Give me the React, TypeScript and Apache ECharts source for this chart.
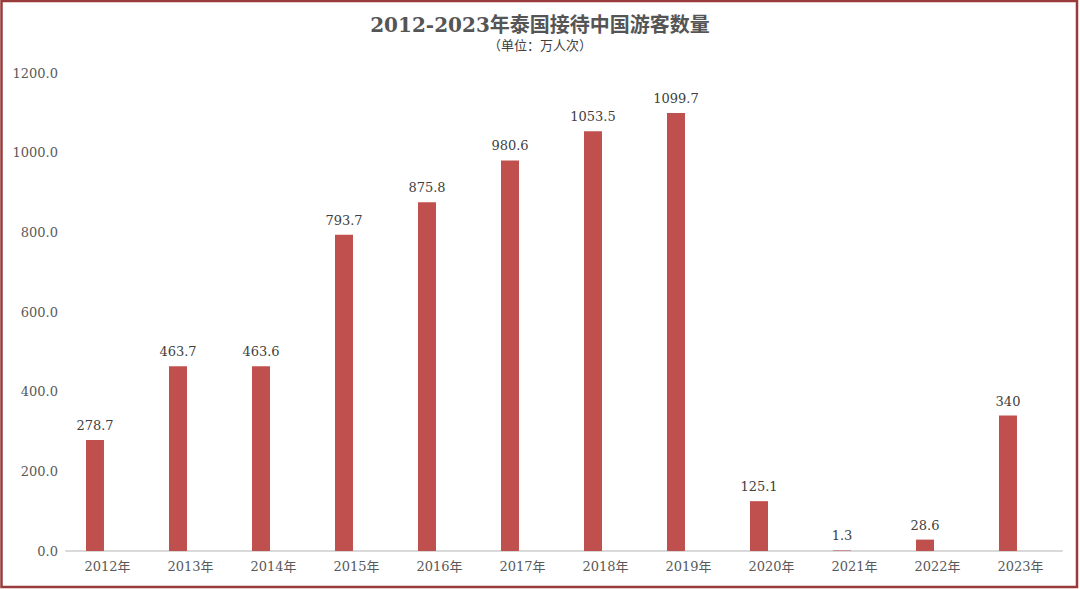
import React, { useEffect, useRef } from "react";
import * as echarts from "echarts";

const categories = ["2012年", "2013年", "2014年", "2015年", "2016年", "2017年", "2018年", "2019年", "2020年", "2021年", "2022年", "2023年"];
const visitors = [278.7, 463.7, 463.6, 793.7, 875.8, 980.6, 1053.5, 1099.7, 125.1, 1.3, 28.6, 340];
const valueLabels = ["278.7", "463.7", "463.6", "793.7", "875.8", "980.6", "1053.5", "1099.7", "125.1", "1.3", "28.6", "340"];
const yTicks = [0, 200, 400, 600, 800, 1000, 1200];

export default function App() {
  const ref = useRef<HTMLDivElement>(null);
  useEffect(() => {
    if (!ref.current) return;
    const chart = echarts.init(ref.current, undefined, { renderer: "svg" });
    const serif = "'DejaVu Serif', 'Noto Sans CJK SC', serif";
    chart.setOption({
      animation: false,
      backgroundColor: "#ffffff",
      title: {
        text: "2012-2023年泰国接待中国游客数量",
        subtext: "（单位：万人次）",
        left: "center",
        top: 10,
        itemGap: 4,
        textStyle: { fontFamily: serif, fontSize: 20, fontWeight: "bold", color: "#555555" },
        subtextStyle: { fontFamily: serif, fontSize: 13, color: "#404040" },
      },
      graphic: [
        {
          type: "rect",
          shape: { x: 1.5, y: 1, width: 1075.5, height: 586 },
          style: { fill: "none", stroke: "#9a3b3b", lineWidth: 2.5 },
          silent: true,
        },
      ],
      grid: { left: 66, right: 18, top: 73, bottom: 38, containLabel: false },
      xAxis: {
        type: "category",
        data: categories,
        axisLine: { lineStyle: { color: "#d9d9d9", width: 2 } },
        axisTick: { show: false },
        axisLabel: { fontFamily: serif, fontSize: 13, color: "#595959", margin: 9 },
      },
      yAxis: {
        type: "value",
        min: yTicks[0],
        max: yTicks[yTicks.length - 1],
        interval: 200,
        splitLine: { show: false },
        axisLine: { show: false },
        axisTick: { show: false },
        axisLabel: {
          fontFamily: serif,
          fontSize: 13,
          color: "#595959",
          margin: 8,
          formatter: (v: number) => v.toFixed(1),
        },
      },
      series: [
        {
          type: "bar",
          data: visitors,
          barWidth: 18,
          barGap: "39%",
          itemStyle: { color: "#c0504d" },
          label: {
            show: true,
            position: "top",
            distance: 8,
            fontFamily: serif,
            fontSize: 13,
            color: "#404040",
            formatter: (p: any) => valueLabels[p.dataIndex],
          },
        },
        {
          type: "bar",
          data: categories.map(() => "-"),
          barWidth: 18,
          itemStyle: { color: "transparent" },
        },
      ],
    });
    return () => chart.dispose();
  }, []);
  return <div ref={ref} style={{ position: "fixed", left: 0, top: 0, width: 1080, height: 589 }} />;
}
